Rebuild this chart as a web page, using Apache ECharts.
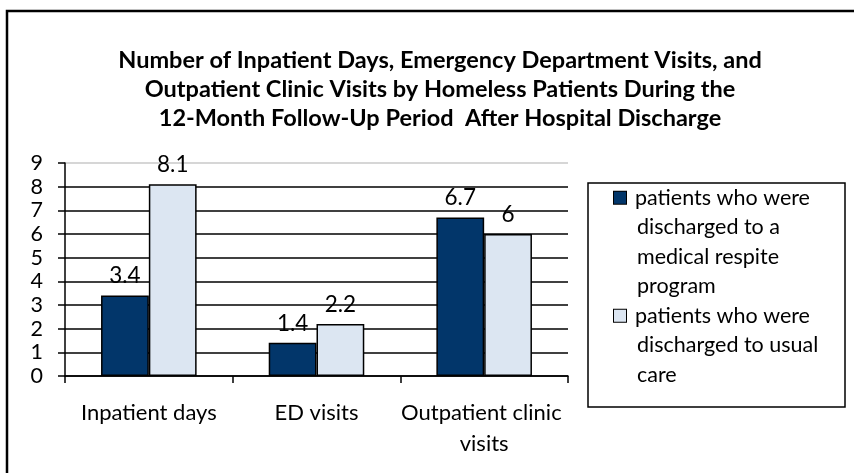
<!DOCTYPE html>
<html>
<head>
<meta charset="utf-8">
<script src="https://cdn.jsdelivr.net/npm/echarts@6/dist/echarts.min.js"></script>
<style>html,body{margin:0;padding:0;background:#fff;}#c{width:854px;height:473px;}</style>
</head>
<body>
<div id="c"></div>
<script>
const titleText = 'Number of Inpatient Days, Emergency Department Visits, and\nOutpatient Clinic Visits by Homeless Patients During the\n12-Month Follow-Up Period  After Hospital Discharge';
const categories = ['Inpatient days', 'ED visits', 'Outpatient clinic visits'];
const seriesNames = ['patients who were\ndischarged to a\nmedical respite\nprogram', 'patients who were\ndischarged to usual\ncare'];
const respiteValues = [3.4, 1.4, 6.7];
const usualCareValues = [8.1, 2.2, 6];
const yTicks = [0, 1, 2, 3, 4, 5, 6, 7, 8, 9];
const colors = ['#02366A', '#DCE6F2'];

const FONT = 'Lato';
const chart = echarts.init(document.getElementById('c'), null, {renderer: 'canvas'});

const rich = {
  t: {fontSize: 21.5, fontFamily: FONT, color: '#000', lineHeight: 29.5},
  sp: {width: 23, height: 14},
  sq0: {width: 12, height: 12, backgroundColor: colors[0], borderColor: '#000', borderWidth: 1},
  sq1: {width: 12, height: 12, backgroundColor: colors[1], borderColor: '#000', borderWidth: 1},
  g: {width: 9}
};

const option = {
  animation: false,
  backgroundColor: '#fff',
  title: {
    text: titleText,
    left: 440,
    top: 46,
    textAlign: 'center',
    padding: 0,
    textStyle: {fontFamily: FONT, fontWeight: 'bold', fontSize: 23.5, lineHeight: 29, color: '#000'}
  },
  legend: {
    data: seriesNames,
    orient: 'vertical',
    left: 608,
    top: 183,
    itemWidth: 0,
    itemHeight: 0,
    icon: 'rect',
    itemGap: 0,
    padding: [0, 0, 0, 0],
    selectedMode: false,
    formatter: function (name) {
      const idx = seriesNames.indexOf(name);
      return name.split('\n').map(function (l, i) {
        return (i === 0 ? '{sq' + idx + '|}{g|}' : '{sp|}') + '{t|' + l + '}';
      }).join('\n');
    },
    textStyle: {rich: rich, fontSize: 21.5, fontFamily: FONT, lineHeight: 29.5}
  },
  grid: {left: 65, right: 286, top: 163, bottom: 97, containLabel: false},
  xAxis: {
    type: 'category',
    data: categories,
    axisLine: {lineStyle: {color: '#000', width: 1.5}},
    axisTick: {show: true, length: 7, lineStyle: {color: '#000', width: 1.5}},
    axisLabel: {color: '#000', fontFamily: FONT, fontSize: 22, margin: 21, lineHeight: 31, width: 190, overflow: 'break', interval: 0}
  },
  yAxis: {
    type: 'value',
    min: yTicks[0],
    max: yTicks[yTicks.length - 1],
    interval: 1,
    axisLine: {show: true, lineStyle: {color: '#000', width: 1.5}},
    axisTick: {show: true, length: 7, lineStyle: {color: '#000', width: 1.5}},
    axisLabel: {color: '#000', fontFamily: FONT, fontSize: 21.5, margin: 22},
    splitLine: {show: true, lineStyle: {color: ['#000', '#000', '#000', '#000', '#000', '#000', '#000', '#000', '#000', '#c8c8c8'], width: 1.5}}
  },
  series: [
    {
      name: seriesNames[0], type: 'bar', data: respiteValues,
      barCategoryGap: '43%', barGap: '0%',
      itemStyle: {color: colors[0], borderColor: '#000', borderWidth: 1.5},
      label: {show: true, position: 'top', distance: 8, color: '#000', fontFamily: FONT, fontSize: 22.5}
    },
    {
      name: seriesNames[1], type: 'bar', data: usualCareValues,
      barCategoryGap: '43%', barGap: '0%',
      itemStyle: {color: colors[1], borderColor: '#000', borderWidth: 1.5},
      label: {show: true, position: 'top', distance: 8, color: '#000', fontFamily: FONT, fontSize: 22.5}
    }
  ],
  graphic: [
    {type: 'rect', silent: true, shape: {x: 7, y: 11, width: 900, height: 500}, style: {fill: 'none', stroke: '#000', lineWidth: 2.5}},
    {type: 'rect', silent: true, shape: {x: 588, y: 183, width: 257, height: 224}, style: {fill: 'none', stroke: '#000', lineWidth: 1.5}}
  ]
};
chart.setOption(option);
</script>
</body>
</html>
